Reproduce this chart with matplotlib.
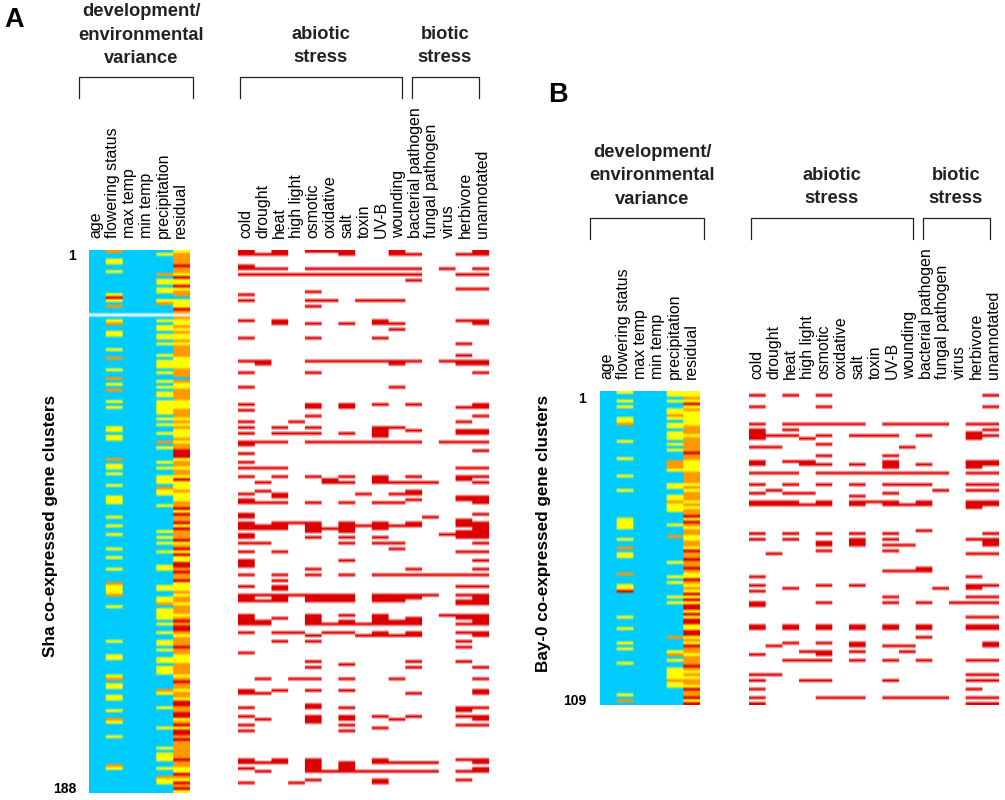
import numpy as np
import matplotlib
matplotlib.use("Agg")
import matplotlib.pyplot as plt
from matplotlib.colors import ListedColormap, BoundaryNorm
from matplotlib.lines import Line2D

W, H = 1005, 800
plt.rcParams["font.family"] = ["Liberation Sans", "DejaVu Sans"]

env_labels = ["age", "flowering status", "max temp", "min temp", "precipitation", "residual"]
stress_labels = ["cold", "drought", "heat", "high light", "osmotic", "oxidative", "salt", "toxin",
                 "UV-B", "wounding", "bacterial pathogen", "fungal pathogen", "virus",
                 "herbivore", "unannotated"]

# panel A, environmental columns: row numbers per colour
sha_flowering_yellow = [3, 4, 7, 15, 17, 24, 28, 29, 34, 41, 46, 52, 54, 61, 62, 64, 65, 74, 75, 77,
                        81, 85, 86, 87, 92, 95, 98, 103, 106, 110, 116, 117, 118, 123, 135, 140,
                        141, 147, 150, 151, 154, 155, 159, 163, 168, 179]
sha_flowering_orange = [0, 19, 25, 37, 44, 48, 72, 115, 119, 148, 162, 178]
sha_flowering_red = [16]
sha_precip_yellow = [1, 10, 11, 13, 14, 17, 24, 26, 27, 29, 30, 32, 36, 38, 39, 40, 42, 45, 47, 49,
                     50, 52, 53, 54, 55, 56, 58, 60, 63, 68, 73, 75, 78, 79, 80, 83, 84, 88, 97,
                     99, 101, 104, 109, 110, 116, 117, 120, 121, 124, 125, 126, 127, 129, 132,
                     135, 136, 138, 141, 142, 144, 145, 146, 153, 158, 165, 172, 174, 175, 176,
                     179, 183, 184]
sha_precip_orange = [8, 18, 66, 82, 122, 152, 182]
sha_residual_yellow = [0, 8, 10, 11, 13, 17, 18, 19, 24, 25, 27, 29, 30, 32, 37, 38, 39, 40, 46, 47,
                       52, 53, 54, 58, 60, 62, 63, 64, 66, 72, 75, 78, 80, 81, 82, 84, 85, 86, 90,
                       95, 101, 104, 106, 107, 115, 116, 117, 119, 122, 126, 133, 140, 141, 142,
                       147, 152, 155, 162, 165, 179, 180, 183, 187]
sha_residual_red = [5, 9, 12, 20, 69, 70, 71, 79, 89, 91, 94, 96, 100, 103, 105, 108, 109, 111, 114,
                    128, 130, 131, 137, 149, 156, 157, 160, 161, 164, 166, 167, 169, 176, 181,
                    184, 186]
sha_residual_blue = [16, 44]

# panel A, stress columns: row -> hit columns (hex digit per column)
sha_hits = [(0, "02456 9e"), (1, "01269adE"), (5, "0"), (6, "0124567 89ace"), (8, "0123456789adde"),
            (10, "a"), (13, "de"), (14, "4"), (15, "0"), (17, "045789"), (19, "4"),
            (24, "028de"), (25, "24689e"), (27, "9"), (30, "048"), (32, "d"), (36, "d"),
            (38, "0145 6789acde"), (39, "19de"), (42, "04e"), (47, "09"), (53, "0468ae"),
            (54, "46de"), (55, "0"), (57, "4e"), (59, "03d"), (61, "02489"), (62, "8ade"),
            (63, "023468de"), (64, "8"), (66, "012456789acde"), (67, "0"), (69, "e"), (70, "0"),
            (73, "0"), (75, "012de"), (78, "02468ade"), (79, "58d"), (80, "1568 9abe"),
            (83, "1a"), (84, "0279a"), (85, "2de"), (86, "0ade"), (87, "012 4689e"),
            (91, "0e"), (92, "0b"), (93, "d"), (94, "023468ade"), (95, "0124678 9ade"),
            (96, "012 4568e"), (97, "46de"), (98, "0cde"), (99, "0468de"), (101, "0168 9e"),
            (103, "9"), (104, "02de"), (107, "06e"), (108, "0"), (109, "0"), (110, "4ae"),
            (112, "02468 9abcde"), (114, "2"), (116, "02de"), (117, "2"), (119, "0123456 89abde"),
            (120, "024 5689ae"), (121, "01245689de"), (122, "de"), (126, "0468cde"),
            (127, "0248ade"), (128, "01468 9ae"), (129, "014567 89adE"), (132, "0235 68ade"),
            (133, "478 9ae"), (135, "24d"), (137, "d"), (139, "0"), (142, "4ad"), (143, "6"),
            (144, "4ae"), (148, "13469e"), (152, "0246e"), (153, "01ae"), (157, "4"),
            (158, "046de"), (159, "d"), (161, "0468ade"), (162, "1469e"), (163, "4"),
            (164, "06de"), (165, "8"), (166, "06"), (176, "0248de"), (177, "012468 9abe"),
            (178, "46"), (179, "046e"), (180, "1456789abde"), (183, "48d"), (184, "038")]

# panel B, environmental columns
bay_flowering_yellow = [0, 3, 5, 9, 10, 17, 23, 29, 34, 44, 45, 46, 47, 51, 56, 57, 67, 68, 78, 82,
                        87, 89, 94, 105]
bay_flowering_orange = [11, 54, 63, 107]
bay_flowering_red = [69]
bay_precip_yellow = [0, 1, 3, 6, 7, 9, 11, 12, 14, 15, 16, 18, 20, 27, 32, 33, 36, 37, 39, 40, 41,
                     46, 59, 64, 66, 71, 73, 90, 93, 96, 97, 98, 99, 101, 102]
bay_precip_orange = [8, 24, 25, 26, 38, 50, 85, 91, 100]
bay_residual_yellow = [0, 1, 3, 5, 7, 8, 9, 10, 11, 15, 24, 25, 26, 27, 32, 34, 38, 40, 44, 47, 50,
                       51, 54, 63, 64, 67, 69, 71, 73, 76, 78, 81, 82, 85, 87, 91, 97, 99, 102, 107]
bay_residual_red = [4, 21, 43, 45, 55, 58, 61, 65, 70, 72, 74, 75, 77, 79, 80, 83, 84, 88, 95, 103,
                    106, 108]

# panel B, stress columns
bay_hits = [(1, "024e"), (5, "04e"), (11, "023456 89abde"), (13, "02e"), (14, "0d"),
            (15, "01246 78ade"), (16, "03d"), (18, "4"), (19, "019"), (22, "48"),
            (24, "0238de"), (25, "03468ade"), (26, "8d"), (28, "01245 6789abde"),
            (32, "024689ade"), (34, "1bde"), (35, "0238"), (36, "6"), (38, "012467 8ade"),
            (39, "0123468 9ade"), (40, "d"), (48, "a"), (49, "02468e"), (51, "0268de"),
            (52, "46e"), (53, "4689e"), (55, "48"), (56, "1de"), (61, "a"), (62, "89a"),
            (64, "0d"), (67, "046de"), (68, "2bd"), (69, "0"), (71, "8de"), (73, "048acde"),
            (74, "0"), (78, "de"), (81, "02468ade"), (82, "02468ade"), (85, "a"),
            (87, "246e"), (88, "1689e"), (90, "3469"), (91, "04"), (93, "23468ade"),
            (98, "01de"), (100, "0348de"), (103, "0d"), (106, "0456 89abde"), (108, "0de")]

env_colors = ListedColormap(["#00CCFF", "#FFFF00", "#FF9900", "#DD0000", "#FFFFFF"])
env_norm = BoundaryNorm([-0.5, 0.5, 1.5, 2.5, 3.5, 4.5], 5)
stress_colors = ListedColormap(["#FFFFFF", "#DD0000"])
stress_norm = BoundaryNorm([-0.5, 0.5, 1.5], 2)


def px_axes(fig, x, y, w, h):
    ax = fig.add_axes([x / W, 1 - (y + h) / H, w / W, h / H])
    ax.axis("off")
    return ax


def draw_cells(ax, mat, cmap, norm):
    # repeat columns so the smoothing only softens the edges sideways
    wide = np.repeat(mat, 16, axis=1)
    ax.imshow(wide, cmap=cmap, norm=norm, aspect="auto", interpolation="bilinear",
              interpolation_stage="rgba")


def env_matrix(n, fy, fo, fr, py, po, ry, rr, rb=(), gap=()):
    mat = np.zeros((n, 6))
    mat[list(fy), 1] = 1
    mat[list(fo), 1] = 2
    mat[list(fr), 1] = 3
    mat[list(py), 4] = 1
    mat[list(po), 4] = 2
    mat[:, 5] = 2
    mat[list(ry), 5] = 1
    mat[list(rr), 5] = 3
    mat[list(rb), 5] = 0
    mat[list(gap), :] = 4
    return mat


def hit_matrix(n, hits):
    mat = np.zeros((n, 15))
    for row, cols in hits:
        for c in cols.replace(" ", "").lower():
            mat[row, int(c, 16)] = 1
    return mat


def bracket(fig, x0, x1, top, bottom):
    xs = [x0 / W, x0 / W, x1 / W, x1 / W]
    ys = [1 - bottom / H, 1 - top / H, 1 - top / H, 1 - bottom / H]
    fig.add_artist(Line2D(xs, ys, color="#222222", lw=0.9))


def put(fig, x, y, s, **kw):
    fig.text(x / W, 1 - y / H, s, **kw)


def panel(fig, dx, dy, top, rows, env, hits):
    draw_cells(px_axes(fig, 88.5 + dx, top, 100, rows), env, env_colors, env_norm)
    draw_cells(px_axes(fig, 238 + dx, top, 250, rows), hits, stress_colors, stress_norm)

    for i, name in enumerate(env_labels):
        put(fig, 96 + dx + i * 16.8, 238 + dy, name, rotation=90, ha="center", va="bottom", fontsize=11.4)
    for i, name in enumerate(stress_labels):
        put(fig, 245.5 + dx + i * 16.95, 238 + dy, name, rotation=90, ha="center", va="bottom", fontsize=11.4)

    bx = dx - 0.5 if dx else 0
    bracket(fig, 79 + bx, 193 + bx, 77 + dy, 98 + dy)
    bracket(fig, 240 + bx, 402 + bx, 77 + dy, 98 + dy)
    bracket(fig, 412 + bx, 479 + bx, 77 + dy, 98 + dy)

    head = dict(ha="center", va="center", fontsize=13.2, fontweight="bold", color="#222222", linespacing=1.5)
    put(fig, 141 + dx, 35 + dy, "development/\nenvironmental\nvariance", **head)
    put(fig, 321 + dx, 46 + dy, "abiotic\nstress", **head)
    put(fig, 445 + dx, 46 + dy, "biotic\nstress", **head)


fig = plt.figure(figsize=(W / 100, H / 100), dpi=100)

sha_env = env_matrix(188, sha_flowering_yellow, sha_flowering_orange, sha_flowering_red,
                     sha_precip_yellow, sha_precip_orange, sha_residual_yellow, sha_residual_red,
                     sha_residual_blue, gap=[22])
bay_env = env_matrix(109, bay_flowering_yellow, bay_flowering_orange, bay_flowering_red,
                     bay_precip_yellow, bay_precip_orange, bay_residual_yellow, bay_residual_red)

panel(fig, 0, 0, 250, 543, sha_env, hit_matrix(188, sha_hits))
panel(fig, 511, 141, 391, 314, bay_env, hit_matrix(109, bay_hits))

put(fig, 4, 20, "A", fontsize=19.5, fontweight="bold", va="center")
put(fig, 548, 95, "B", fontsize=19.5, fontweight="bold", va="center")

small = dict(fontsize=10, fontweight="bold", va="center", ha="right")
put(fig, 76, 256, "1", **small)
put(fig, 76, 789, "188", **small)
put(fig, 586, 399, "1", **small)
put(fig, 586, 701, "109", **small)

side = dict(rotation=90, ha="center", va="center", fontsize=12.35, fontweight="bold")
put(fig, 50, 526, "Sha co-expressed gene clusters", **side)
put(fig, 543, 533, "Bay-0 co-expressed gene clusters", **side)

fig.savefig("out.png", dpi=100)
